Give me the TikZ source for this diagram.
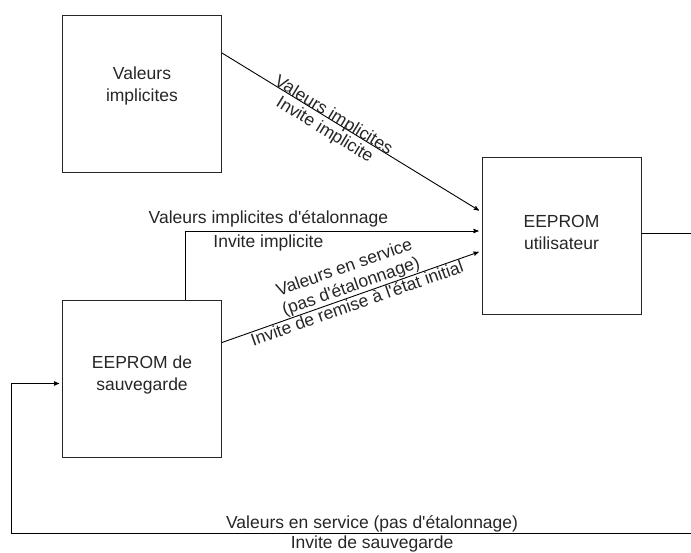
\documentclass[tikz,border=0pt]{standalone}
\usepackage{fontspec}
\setmainfont{Liberation Sans}
\usepackage{tikz}
\usetikzlibrary{arrows,positioning}
\tikzstyle{bloc}=[rectangle,draw=black!85,minimum width=159pt,minimum height=157pt,align=center]
\tikzstyle{etiquette}=[align=center,inner sep=3pt,font=\fontsize{17.5}{20}\selectfont]
\newcommand{\apos}{\textquotesingle}

\begin{document}
\begin{tikzpicture}[->,>=stealth',shorten >=3pt,x=1pt,y=-1pt,line width=0.9pt,
                    font=\fontsize{17.5}{22}\selectfont,text=black!85]
  \useasboundingbox (0,0) rectangle (691,553);

  \node[bloc,text depth=20pt] (implicites) at (142,94)      {Valeurs\\implicites};
  \node[bloc,text depth=11pt] (sauvegarde) [below of=implicites,node distance=285pt] {EEPROM de\\sauvegarde};
  \node[bloc,text depth=8pt]  (utilisateur) at (561.5,236)  {EEPROM\\utilisateur};
  \coordinate (sortie) at (691,233);
  \coordinate (retour) at (691,533);
  \coordinate (coin)   at (11,533);

  \path ([yshift=41pt]implicites.east) edge node[etiquette,sloped,anchor=base,pos=0.42] {Valeurs implicites}
                                            node[etiquette,sloped,below,inner sep=4pt,pos=0.42] {Invite implicite} ([yshift=24pt]utilisateur.west)
        ([yshift=36.5pt]sauvegarde.east) edge node[etiquette,sloped,above,inner sep=0.5pt,pos=0.51] {Valeurs en service\\(pas d\apos étalonnage)}
                                              node[etiquette,sloped,below,inner sep=0.5pt,pos=0.51] {Invite de remise à l\apos état initial} ([yshift=-15pt]utilisateur.west);
  \draw ([xshift=43.5pt]sauvegarde.north) |- node[etiquette,above,pos=0.64] {Valeurs implicites d\apos étalonnage}
                                             node[etiquette,below,pos=0.64] {Invite implicite} ([yshift=5pt]utilisateur.west);
  % retour vers la sauvegarde
  \draw[-,shorten >=0pt] ([yshift=3pt]utilisateur.east) -- (sortie);
  \draw (retour) -- node[etiquette,above,inner sep=0.5pt,pos=0.469] {Valeurs en service (pas d\apos étalonnage)}
                    node[etiquette,below,inner sep=2pt,pos=0.469] {Invite de sauvegarde} (coin)
                 |- ([yshift=-4.5pt]sauvegarde.west);
\end{tikzpicture}
\end{document}
